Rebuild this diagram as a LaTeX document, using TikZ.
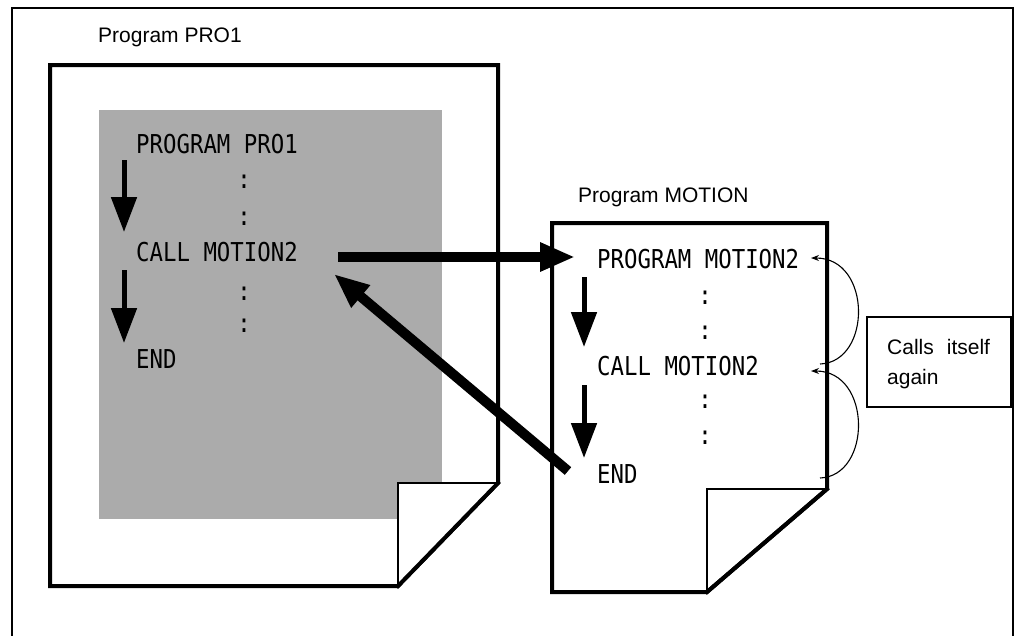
\documentclass[tikz,border=0pt]{standalone}
\usepackage{fontspec}
\setmainfont{Liberation Sans}
\newfontfamily\codefont[FakeStretch=0.86]{DejaVu Sans Mono}
\usetikzlibrary{arrows.meta}
\tikzset{
  code/.style={font=\codefont\fontsize{26}{26}\selectfont, inner sep=0pt, anchor=base west},
  dots/.style={font=\codefont\fontsize{26}{26}\selectfont, inner sep=0pt},
  label/.style={font=\fontsize{21}{21}\selectfont, inner sep=0pt, anchor=base west},
  page/.style={draw, line width=4pt, fill=white, line join=miter},
  flap/.style={draw, line width=1.3pt},
  bigarrow/.style={line width=10pt, -{Triangle[length=35pt,width=27pt]}},
  flowarrow/.style={line width=5pt, -{Triangle[length=35pt,width=25pt]}},
  selfarrow/.style={line width=1.1pt, -{Stealth[length=8pt,width=6pt]}},
}
\begin{document}
\begin{tikzpicture}[x=1pt,y=-1pt]
\useasboundingbox (0,0) rectangle (1016,635);
% outer frame
\draw[line width=2.6pt] (12,640) -- (12,8) -- (1013,8) -- (1013,640);

% left page
\path[page] (50,65) -- (498,65) -- (498,483) -- (398,586) -- (50,586) -- cycle;
\fill[black!33] (99,110) rectangle (442,519);
\fill[white] (398,483) -- (498,483) -- (398,586) -- cycle;
\draw[flap] (498,483) -- (398,483) -- (398,586);
\draw[line width=4pt, line cap=rect] (498,483) -- (398,586);

% right page
\path[page] (552,223) -- (827,223) -- (827,489) -- (707,592) -- (552,592) -- cycle;
\draw[flap] (827,489) -- (707,489) -- (707,592);
\draw[line width=4pt, line cap=rect] (827,489) -- (707,592);

% titles
\node[label] (titleL) at (98,42) {Program PRO1};
\node[label] (titleR) at (578,202) {Program MOTION};

% left code
\node[code] (progL) at (136,153) {PROGRAM PRO1};
\node[dots] (dL1) at (244,182) {:};
\node[dots] (dL2) at (244,219) {:};
\node[code] (callL) at (136,261) {CALL MOTION2};
\node[dots] (dL3) at (244,294) {:};
\node[dots] (dL4) at (244,326) {:};
\node[code] (endL) at (136,368) {END};

% right code
\node[code] (progR) at (597,268) {PROGRAM MOTION2};
\node[dots] (dR1) at (705,298) {:};
\node[dots] (dR2) at (705,333) {:};
\node[code] (callR) at (597,375) {CALL MOTION2};
\node[dots] (dR3) at (705,402) {:};
\node[dots] (dR4) at (705,438) {:};
\node[code] (endR) at (597,483) {END};

% flow arrows
\coordinate (aL1s) at (124,160); \coordinate (aL1e) at (124,232);
\coordinate (aL2s) at (124,270); \coordinate (aL2e) at (124,343);
\coordinate (aR1s) at (584,277); \coordinate (aR1e) at (584,347);
\coordinate (aR2s) at (584,385); \coordinate (aR2e) at (584,458);
\draw[flowarrow] (aL1s) -- (aL1e);
\draw[flowarrow] (aL2s) -- (aL2e);
\draw[flowarrow] (aR1s) -- (aR1e);
\draw[flowarrow] (aR2s) -- (aR2e);

% big arrows
\coordinate (callOut) at (338,257);
\coordinate (progIn) at (575,257);
\coordinate (endOut) at (568,471);
\coordinate (callIn) at (334,274);
\draw[bigarrow] (callOut) -- (progIn);
\draw[bigarrow] (endOut) -- (callIn);

% self-call arcs
\coordinate (s1) at (820,364); \coordinate (t1) at (811,258);
\coordinate (s2) at (820,478); \coordinate (t2) at (811,371);
\draw[selfarrow] (s1) .. controls (872,362) and (872,258) .. (t1);
\draw[selfarrow] (s2) .. controls (872,476) and (872,371) .. (t2);

% note box
\node[draw, line width=1.3pt, minimum width=144pt, minimum height=90pt, inner sep=0pt] (note) at (939,362) {};
\node[label] (noteA) at (887,354) {Calls\hspace{13pt}itself};
\node[label] (noteB) at (887,384) {again};
\end{tikzpicture}
\end{document}
